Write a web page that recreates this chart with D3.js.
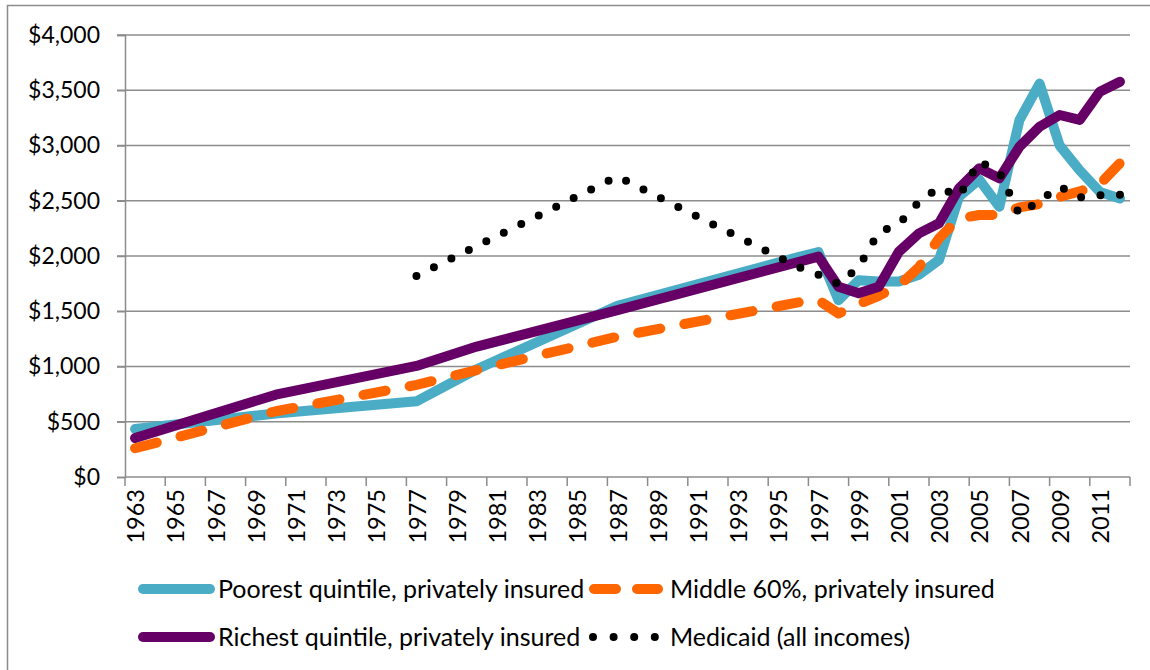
<!DOCTYPE html>
<html>
<head>
<meta charset="utf-8">
<script src="https://cdn.jsdelivr.net/npm/d3@7"></script>
<style>
  body { margin: 0; background: #fff; }
  text { font-family: Lato, "Open Sans", sans-serif; fill: #000; }
</style>
</head>
<body>
<div id="chart"></div>
<script>
// Chart size and plot box
const WIDTH = 1150, HEIGHT = 670;
const plot = {left: 125, right: 1130, top: 35, bottom: 477};

// Categories (one per year) and the y ticks
const years = d3.range(1963, 2013);
const yTicks = [0, 500, 1000, 1500, 2000, 2500, 3000, 3500, 4000];

// Series values, per year (null = no survey that year; the line joins across)
const poorest = [434, null, null, null, null, null, null, 575, null, null, null, null, null, null,
  685, null, null, 975, null, null, null, null, null, null, 1550, null, null, null, null, null,
  null, null, null, 1990, 2035, 1600, 1780, 1770, 1770, 1830, 1965, 2540, 2690, 2445, 3230,
  3560, 3000, 2775, 2580, 2520];
const middle = [260, null, null, null, null, null, null, 595, null, null, null, null, null, null,
  833, null, null, 968, null, null, null, null, null, null, 1270, null, null, null, null, null,
  null, null, null, 1580, 1600, 1480, 1565, 1640, 1730, 1900, 2160, 2340, 2371, 2371, 2440,
  2470, 2535, 2585, 2650, 2840];
const richest = [353, null, null, null, null, null, null, 745, null, null, null, null, null, null,
  1005, null, null, 1180, null, null, null, null, null, null, 1510, null, null, null, null, null,
  null, null, null, 1946, 1994, 1722, 1662, 1722, 2039, 2205, 2296, 2613, 2794, 2703, 2989,
  3170, 3276, 3231, 3487, 3577];
const medicaid = [null, null, null, null, null, null, null, null, null, null, null, null, null, null,
  1820, null, null, null, null, null, null, null, null, null, 2720, null, null, null, null, null,
  null, null, null, 1900, 1830, 1745, 1900, 2215, 2290, 2490, 2620, 2540, 2855, 2760, 2375,
  2500, 2630, 2530, 2550, 2555];

const seriesNames = ["Poorest quintile, privately insured", "Middle 60%, privately insured",
  "Richest quintile, privately insured", "Medicaid (all incomes)"];
const seriesColors = ["#4bacc6", "#ff6600", "#660066", "#000000"];

const series = [
  {name: seriesNames[0], values: poorest, color: seriesColors[0], width: 10, dash: null},
  {name: seriesNames[1], values: middle, color: seriesColors[1], width: 10, dash: [23, 25]},
  {name: seriesNames[2], values: richest, color: seriesColors[2], width: 10, dash: null},
  {name: seriesNames[3], values: medicaid, color: seriesColors[3], width: 8, dash: [0, 19.5]}
];

let svg = d3.select("#chart")
    .append("svg")
    .attr("width", WIDTH)
    .attr("height", HEIGHT);

svg.append("rect")
    .attr("width", WIDTH).attr("height", HEIGHT)
    .attr("fill", "#fff");

// outer frame (only top and left show in the picture)
svg.append("rect")
    .attr("x", 7.5).attr("y", 5.5)
    .attr("width", WIDTH + 20).attr("height", HEIGHT + 20)
    .attr("fill", "none")
    .attr("stroke", "#8c8c8c")
    .attr("stroke-width", 1.5);

let x = d3.scaleBand()
    .domain(years)
    .range([plot.left, plot.right])
    .padding(0);

let y = d3.scaleLinear()
    .domain([0, 4000])
    .range([plot.bottom, plot.top]);

const gridColor = "#8c8c8c";

// Gridlines
svg.append("g")
    .selectAll("line")
    .data(yTicks.filter(d => d > 0))
    .enter()
    .append("line")
    .attr("x1", plot.left - 8)
    .attr("x2", plot.right)
    .attr("y1", d => y(d))
    .attr("y2", d => y(d))
    .attr("stroke", gridColor)
    .attr("stroke-width", 1.5);

// Y axis
let yAxis = svg.append("g")
    .attr("transform", `translate(${plot.left}, 0)`)
    .call(d3.axisLeft(y).tickValues(yTicks).tickSize(8).tickPadding(17).tickFormat(d3.format("$,")));
yAxis.select(".domain").attr("stroke", gridColor).attr("stroke-width", 1.5);
yAxis.selectAll(".tick line").attr("stroke", gridColor).attr("stroke-width", 1.5);
yAxis.selectAll("text").style("font-size", "23px").attr("fill", "#000");

// X axis: ticks on category boundaries every 2 years, labels centred on the category
let xAxisG = svg.append("g");
xAxisG.append("line")
    .attr("x1", plot.left).attr("x2", plot.right)
    .attr("y1", plot.bottom).attr("y2", plot.bottom)
    .attr("stroke", gridColor).attr("stroke-width", 1.5);

const tickYears = years.filter((d, i) => i % 2 === 0);
let tickXs = tickYears.map(d => x(d)).concat([plot.right]);
xAxisG.selectAll(".xtick")
    .data(tickXs)
    .enter()
    .append("line")
    .attr("class", "xtick")
    .attr("x1", d => d).attr("x2", d => d)
    .attr("y1", plot.bottom).attr("y2", plot.bottom + 9)
    .attr("stroke", gridColor).attr("stroke-width", 1.5);

xAxisG.selectAll(".xlabel")
    .data(tickYears)
    .enter()
    .append("text")
    .attr("class", "xlabel")
    .attr("transform", d => `translate(${x(d) + x.bandwidth() / 2 + 1}, ${plot.bottom + 12}) rotate(-90)`)
    .attr("dy", "0.35em")
    .style("text-anchor", "end")
    .style("font-size", "23.5px")
    .text(d => d);

// Series lines
let line = d3.line()
    .x(d => x(d.year) + x.bandwidth() / 2)
    .y(d => y(d.value));

series.forEach(function(s) {
    let pts = years.map((yr, i) => ({year: yr, value: s.values[i]}))
        .filter(d => d.value !== null);
    let path = svg.append("path")
        .datum(pts)
        .attr("d", line)
        .attr("fill", "none")
        .attr("stroke", s.color)
        .attr("stroke-width", s.width)
        .attr("stroke-linecap", "round")
        .attr("stroke-linejoin", "round");
    if (s.dash) {
        // stretch the pattern a little so the line starts and ends on a dash
        let len = path.node().getTotalLength();
        let period = s.dash[0] + s.dash[1];
        let n = Math.round((len - s.dash[0]) / period);
        let k = (len - s.dash[0]) / (n * period);
        path.attr("stroke-dasharray", `${s.dash[0] * k},${s.dash[1] * k}`);
    }
});

// Legend
const legendItems = [
  {s: series[0], x: 143, y: 589, len: 67, dash: null, tx: 218},
  {s: series[1], x: 594, y: 589, len: 64, dash: "22,21", tx: 670},
  {s: series[2], x: 143, y: 637, len: 67, dash: null, tx: 218},
  {s: series[3], x: 593, y: 637, len: 62, dash: "0,20.6", tx: 670}
];

let legend = svg.append("g");
legendItems.forEach(function(it) {
    legend.append("line")
        .attr("x1", it.x).attr("x2", it.x + it.len)
        .attr("y1", it.y).attr("y2", it.y)
        .attr("stroke", it.s.color)
        .attr("stroke-width", it.s.width === 10 ? 10 : 8)
        .attr("stroke-linecap", "round")
        .attr("stroke-dasharray", it.dash);
    legend.append("text")
        .attr("x", it.tx).attr("y", it.y)
        .attr("dy", "0.35em")
        .style("font-size", "25px")
        .text(it.s.name);
});
</script>
</body>
</html>
